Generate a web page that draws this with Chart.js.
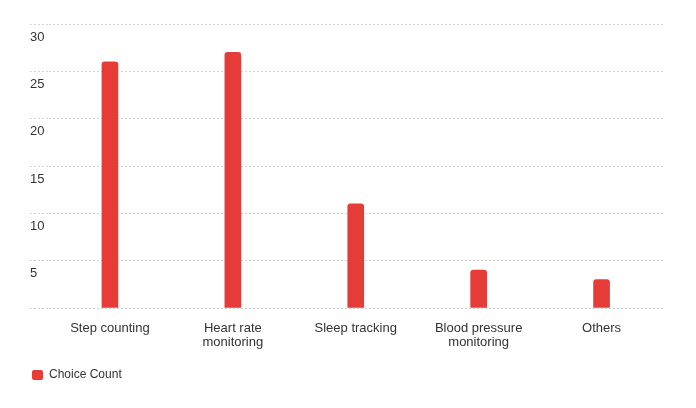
<!DOCTYPE html>
<html>
<head>
<meta charset="utf-8">
<script src="https://cdn.jsdelivr.net/npm/chart.js@4"></script>
<style>
  html, body { margin: 0; padding: 0; background: #ffffff; }
  #wrap { width: 696px; height: 408px; position: relative; }
</style>
</head>
<body>
<div id="wrap"><canvas id="c"></canvas></div>
<script>
const categories = ['Step counting', ['Heart rate', 'monitoring'], 'Sleep tracking', ['Blood pressure', 'monitoring'], 'Others'];
const seriesName = 'Choice Count';
const choiceCounts = [26, 27, 11, 4, 3];
const yTicks = [0, 5, 10, 15, 20, 25, 30];

const barColor = '#e53c38';
const gridColor = '#d4d4d4';
const textColor = '#333333';

new Chart(document.getElementById('c'), {
  type: 'bar',
  data: {
    labels: categories,
    datasets: [{
      label: seriesName,
      data: choiceCounts,
      backgroundColor: barColor,
      borderColor: barColor,
      borderWidth: 0,
      barThickness: 16,
      borderRadius: 3,
      borderSkipped: 'start'
    }]
  },
  options: {
    responsive: true,
    maintainAspectRatio: false,
    animation: false,
    layout: { padding: { top: 24, left: 30, right: 33, bottom: 17 } },
    plugins: {
      legend: {
        position: 'bottom',
        align: 'start',
        labels: {
          boxWidth: 11,
          boxHeight: 10,
          useBorderRadius: true,
          borderRadius: 2,
          padding: 2,
          color: textColor,
          font: { family: 'Liberation Sans, Arial, sans-serif', size: 12 }
        }
      },
      tooltip: { enabled: false }
    },
    scales: {
      x: {
        grid: { display: false, drawTicks: false, tickLength: 0 },
        border: { display: false },
        ticks: {
          color: textColor,
          padding: 13,
          maxRotation: 0,
          autoSkip: false,
          font: { family: 'Liberation Sans, Arial, sans-serif', size: 13, lineHeight: 1.1 }
        },
        afterFit: (s) => { s.height = 59; }
      },
      y: {
        min: yTicks[0],
        max: yTicks[yTicks.length - 1],
        afterBuildTicks: (s) => { s.ticks = yTicks.map(v => ({ value: v })); },
        afterFit: (s) => { s.width = 18.5; },
        grid: {
          color: gridColor,
          lineWidth: 1,
          drawTicks: true,
          tickLength: 18.5,
          tickBorderDash: [2, 2]
        },
        border: { display: false, dash: [2, 2] },
        ticks: {
          color: textColor,
          crossAlign: 'far',
          labelOffset: 13,
          padding: 0,
          font: { family: 'Liberation Sans, Arial, sans-serif', size: 13 },
          callback: (v) => (v === 0 ? '' : String(v))
        }
      }
    }
  }
});
</script>
</body>
</html>
